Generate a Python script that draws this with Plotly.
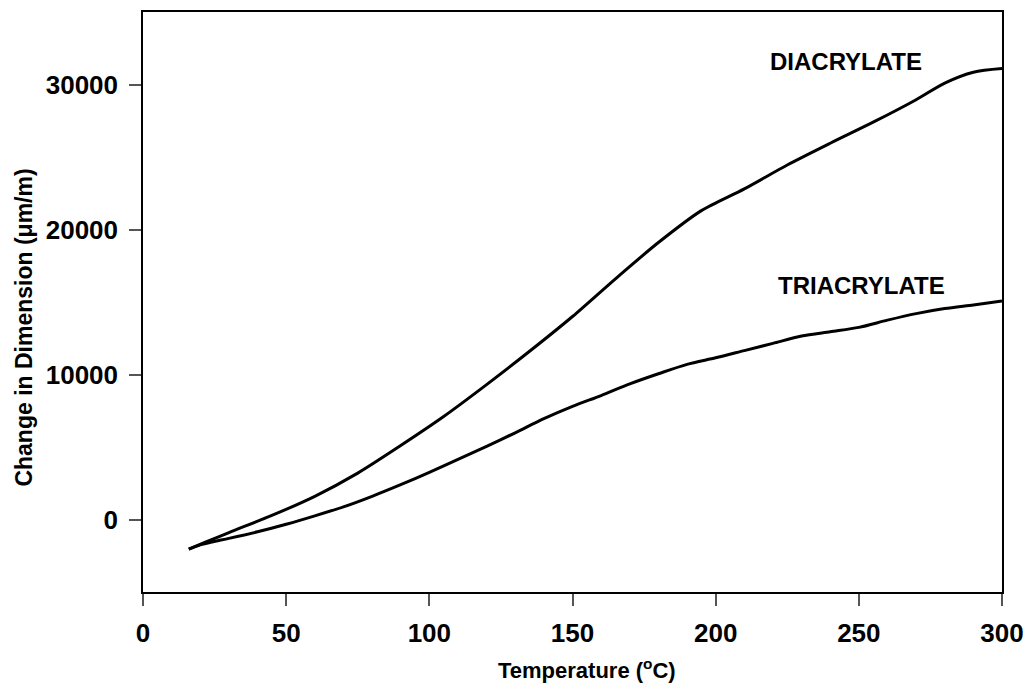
import plotly.graph_objects as go

# Diacrylate curve
di_temp = [16, 22, 30, 45, 60, 75, 90, 105, 120, 135, 150, 165, 180, 195, 210,
           225, 240, 255, 270, 280, 290, 300]
di_change = [-2050, -1550, -900, 280, 1600, 3200, 5100, 7100, 9300, 11600, 14000,
             16600, 19100, 21300, 22800, 24450, 25950, 27400, 28950, 30100, 30850, 31100]

# Triacrylate curve
tri_temp = [16, 20, 24, 30, 40, 50, 60, 70, 80, 90, 100, 110, 120, 130, 140, 150,
            160, 170, 180, 190, 200, 210, 220, 230, 240, 250, 260, 270, 280, 290, 300]
tri_change = [-2050, -1750, -1550, -1300, -850, -330, 250, 870, 1600, 2400, 3250,
              4150, 5050, 5980, 6950, 7800, 8550, 9350, 10050, 10700, 11150, 11650,
              12150, 12650, 12950, 13250, 13750, 14200, 14550, 14800, 15070]

x_ticks = [0, 50, 100, 150, 200, 250, 300]
y_ticks = [0, 10000, 20000, 30000]

labels = ["DIACRYLATE", "TRIACRYLATE"]
label_x = [245.5, 251]
label_y = [31600, 16150]

FONT = "Liberation Sans, Arial, sans-serif"

fig = go.Figure()
for xs, ys in ((di_temp, di_change), (tri_temp, tri_change)):
    fig.add_trace(go.Scatter(x=xs, y=ys, mode="lines",
                             line=dict(color="black", width=3, shape="spline", smoothing=0.8),
                             showlegend=False, hoverinfo="skip"))

annots = []
for t, lx, ly in zip(labels, label_x, label_y):
    annots.append(dict(x=lx, y=ly, text=t, showarrow=False, xref="x", yref="y",
                       xanchor="center", yanchor="middle",
                       font=dict(family=FONT, size=24, color="black", weight="bold")))

annots.append(dict(x=(590 - 143) / 864, y=-(669 - 592) / 582, xref="paper", yref="paper",
                   xanchor="center", yanchor="middle",
                   text="Temperature (<sup>o</sup>C)", showarrow=False,
                   font=dict(family=FONT, size=22, color="black", weight="bold")))
annots.append(dict(x=-(143 - 23) / 864, y=(592 - 327) / 582, xref="paper", yref="paper",
                   xanchor="center", yanchor="middle",
                   text="Change in Dimension (\u03bcm/m)", showarrow=False, textangle=-90,
                   font=dict(family=FONT, size=23, color="black", weight="bold")))

fig.update_layout(
    width=1034, height=683,
    margin=dict(l=143, r=27, t=10, b=91),
    paper_bgcolor="white", plot_bgcolor="white",
    font=dict(family=FONT, color="black"),
    annotations=annots,
)

fig.update_xaxes(range=[0, 300], tickvals=x_ticks, ticktext=[str(v) for v in x_ticks],
                 ticks="outside", ticklen=12, tickwidth=1.5, tickcolor="#555",
                 showline=True, linecolor="black", linewidth=1.5, mirror=True,
                 showgrid=False, zeroline=False, ticklabelstandoff=5,
                 tickfont=dict(family=FONT, size=26, color="black", weight="bold"))
fig.update_yaxes(range=[-5000, 35000], tickvals=y_ticks, ticktext=[str(v) for v in y_ticks],
                 ticks="outside", ticklen=12, tickwidth=1.5, tickcolor="#555",
                 showline=True, linecolor="black", linewidth=1.5, mirror=True,
                 showgrid=False, zeroline=False, ticklabelstandoff=6,
                 tickfont=dict(family=FONT, size=26, color="black", weight="bold"))

fig.write_html("out.html", config={"displayModeBar": False},
               post_script="document.body.style.margin='0';document.body.style.overflow='hidden';")
